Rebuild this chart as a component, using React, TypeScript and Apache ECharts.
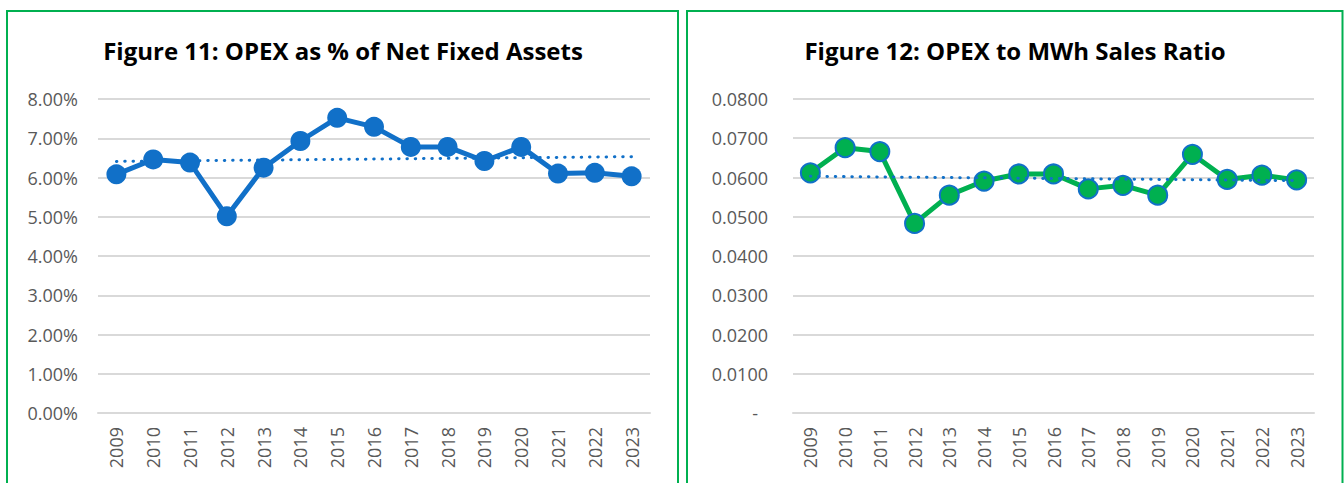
import React, { useEffect, useRef } from "react";
import * as echarts from "echarts";

const years = ["2009", "2010", "2011", "2012", "2013", "2014", "2015", "2016", "2017", "2018", "2019", "2020", "2021", "2022", "2023"];
const opexPctOfNFA = [6.08, 6.46, 6.38, 5.01, 6.25, 6.93, 7.52, 7.29, 6.78, 6.78, 6.42, 6.78, 6.1, 6.12, 6.03];
const pctTrendEnds = [6.41, 6.53];
const opexPerMWh = [0.0612, 0.0676, 0.0666, 0.0483, 0.0555, 0.0591, 0.0609, 0.0609, 0.0571, 0.058, 0.0555, 0.0659, 0.0595, 0.0606, 0.0594];
const mwhTrendEnds = [0.0603, 0.0592];
const title1 = "Figure 11: OPEX as % of Net Fixed Assets";
const title2 = "Figure 12: OPEX to MWh Sales Ratio";

const BLUE = "#1170C8";
const GREEN = "#00B050";
const GRID = "#D9D9D9";
const LABEL = "#595959";
const FONT = "'Open Sans', sans-serif";

function trendData(ends: number[]) {
  return years.map((_, i) => (i === 0 ? ends[0] : i === years.length - 1 ? ends[1] : null));
}

export default function App() {
  const ref = useRef<HTMLDivElement>(null);
  useEffect(() => {
    if (!ref.current) return;
    const chart = echarts.init(ref.current, undefined, { renderer: "svg" });
    const xAxisBase = {
      type: "category" as const,
      data: years,
      boundaryGap: true,
      axisLine: { show: true, lineStyle: { color: GRID, width: 2 } },
      axisTick: { show: false },
      axisLabel: { rotate: 90, color: LABEL, fontSize: 18, fontFamily: FONT, margin: 14 },
    };
    const yAxisBase = {
      type: "value" as const,
      axisLine: { show: false },
      axisTick: { show: false },
      splitLine: { show: true, lineStyle: { color: GRID, width: 2 } },
    };
    const dotted = {
      color: BLUE,
      width: 3,
      type: [0.5, 7.8] as any,
      cap: "round" as const,
    };
    const titleStyle = { fontFamily: FONT, fontWeight: "bold" as const, fontSize: 24, color: "#000", lineHeight: 28 };
    chart.setOption({
      animation: false,
      backgroundColor: "#ffffff",
      title: [
        { text: title1, left: 343, top: 36, textAlign: "center", padding: 0, textStyle: titleStyle },
        { text: title2, left: 1015, top: 36, textAlign: "center", padding: 0, textStyle: titleStyle },
      ],
      graphic: [
        { type: "rect", shape: { x: 7, y: 11, width: 671, height: 490 }, style: { fill: "none", stroke: GREEN, lineWidth: 2 } },
        { type: "rect", shape: { x: 687, y: 11, width: 655.5, height: 490 }, style: { fill: "none", stroke: GREEN, lineWidth: 2 } },
      ],
      grid: [
        { left: 98, right: 694, top: 99, bottom: 70 },
        { left: 793, right: 30, top: 99, bottom: 70 },
      ],
      xAxis: [
        { ...xAxisBase, gridIndex: 0 },
        { ...xAxisBase, gridIndex: 1 },
      ],
      yAxis: [
        {
          ...yAxisBase,
          gridIndex: 0,
          min: 0,
          max: 8,
          interval: 1,
          axisLabel: {
            color: LABEL,
            fontSize: 18,
            fontFamily: FONT,
            margin: 20,
            formatter: (v: number) => v.toFixed(2) + "%",
          },
        },
        {
          ...yAxisBase,
          gridIndex: 1,
          min: 0,
          max: 0.08,
          interval: 0.01,
          axisLabel: {
            color: LABEL,
            fontSize: 18,
            fontFamily: FONT,
            margin: 25,
            formatter: (v: number) => (v === 0 ? "{d|-}" : v.toFixed(4)),
            rich: { d: { color: LABEL, fontSize: 18, fontFamily: FONT, padding: [0, 10, 0, 0] } },
          },
        },
      ],
      series: [
        {
          name: "Trend 11",
          type: "line",
          xAxisIndex: 0,
          yAxisIndex: 0,
          data: trendData(pctTrendEnds),
          connectNulls: true,
          showSymbol: false,
          symbol: "none",
          lineStyle: dotted,
          z: 1,
        },
        {
          name: "OPEX as % of NFA",
          type: "line",
          xAxisIndex: 0,
          yAxisIndex: 0,
          data: opexPctOfNFA,
          symbol: "circle",
          symbolSize: 20,
          lineStyle: { color: BLUE, width: 5 },
          itemStyle: { color: BLUE, borderColor: BLUE, borderWidth: 0 },
          z: 2,
        },
        {
          name: "OPEX to MWh",
          type: "line",
          xAxisIndex: 1,
          yAxisIndex: 1,
          data: opexPerMWh,
          symbol: "circle",
          symbolSize: 19,
          lineStyle: { color: GREEN, width: 5 },
          itemStyle: { color: GREEN, borderColor: BLUE, borderWidth: 2 },
          z: 2,
        },
        {
          name: "Trend 12",
          type: "line",
          xAxisIndex: 1,
          yAxisIndex: 1,
          data: trendData(mwhTrendEnds),
          connectNulls: true,
          showSymbol: false,
          symbol: "none",
          lineStyle: dotted,
          z: 3,
        },
      ],
    });
    return () => chart.dispose();
  }, []);
  return <div ref={ref} style={{ position: "fixed", left: 0, top: 0, width: 1344, height: 483 }} />;
}
